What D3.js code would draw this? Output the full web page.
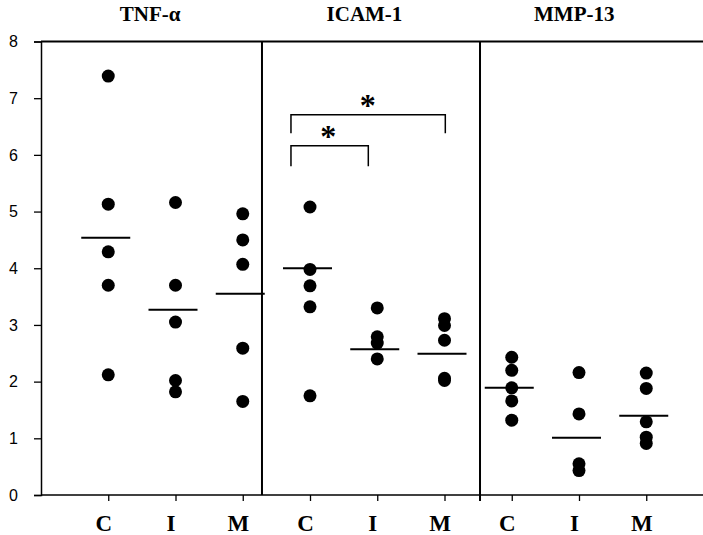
<!DOCTYPE html>
<html>
<head>
<meta charset="utf-8">
<script src="https://cdn.jsdelivr.net/npm/d3@7"></script>
<style>
  html, body { margin: 0; padding: 0; background: #fff; }
  svg { display: block; }
</style>
</head>
<body>
<svg id="chart" width="703" height="535"></svg>
<script>
// ---------------- data ----------------
const panels = ["TNF-α", "ICAM-1", "MMP-13"];
const groups = ["C", "I", "M"];
const yTicks = [0, 1, 2, 3, 4, 5, 6, 7, 8];

const tnfValues = [
  [7.39, 5.13, 4.29, 3.70, 2.12],
  [5.16, 3.70, 3.05, 2.02, 1.82],
  [4.96, 4.50, 4.07, 2.59, 1.65]
];
const icamValues = [
  [5.08, 3.98, 3.69, 3.32, 1.75],
  [3.30, 2.79, 2.68, 2.40],
  [3.11, 2.99, 2.73, 2.06, 2.02]
];
const mmpValues = [
  [2.43, 2.20, 1.89, 1.66, 1.32],
  [2.16, 1.43, 0.55, 0.43],
  [2.15, 1.88, 1.29, 1.02, 0.91]
];
const tnfLines = [4.54, 3.27, 3.55];
const icamLines = [4.00, 2.57, 2.49];
const mmpLines = [1.89, 1.01, 1.40];
const significance = ["*", "*"];

// ---------------- layout ----------------
const W = 703, H = 535;
const svg = d3.select("#chart");
const x = d3.scaleLinear().domain([-1, 9]).range([41, 713.5]);
const y = d3.scaleLinear().domain([0, 8]).range([495, 41.5]);

const allValues = [tnfValues, icamValues, mmpValues];
const allLines = [tnfLines, icamLines, mmpLines];
const categories = [];
panels.forEach((p, pi) => groups.forEach((g, gi) => categories.push({
  panel: pi, label: g, idx: pi * 3 + gi,
  values: allValues[pi][gi], line: allLines[pi][gi]
})));

const ink = "#000";

// top frame line
svg.append("line")
  .attr("x1", x(-1)).attr("x2", W)
  .attr("y1", y(8)).attr("y2", y(8))
  .attr("stroke", ink).attr("stroke-width", 2);

// panel dividers (between groups)
const dividerPos = [2.286, 5.528];
svg.selectAll(".divider").data(dividerPos).enter().append("line")
  .attr("class", "divider")
  .attr("x1", d => x(d)).attr("x2", d => x(d))
  .attr("y1", y(8)).attr("y2", (d, i) => i === 1 ? y(0) + 6 : y(0))
  .attr("stroke", ink).attr("stroke-width", 2);

// y axis
const yAxis = d3.axisLeft(y).tickValues(yTicks).tickSize(7).tickPadding(16)
  .tickFormat(d3.format("d"));
const gy = svg.append("g").attr("transform", `translate(${x(-1)},0)`).call(yAxis);
gy.select(".domain").attr("stroke", ink).attr("stroke-width", 1.5);
gy.selectAll(".tick line").attr("stroke", ink).attr("stroke-width", 1.3);
gy.selectAll(".tick text")
  .attr("fill", ink)
  .style("font-family", "Liberation Sans, Arial, sans-serif")
  .style("font-size", "16px");

// x axis
const xAxis = d3.axisBottom(x).tickValues(categories.map(c => c.idx)).tickSize(6)
  .tickFormat((d, i) => categories[i].label);
const gx = svg.append("g").attr("transform", `translate(0,${y(0)})`).call(xAxis);
gx.select(".domain").attr("d", `M${x(-1)},0H${W}`).attr("stroke", ink).attr("stroke-width", 1.5);
gx.selectAll(".tick line").attr("stroke", ink).attr("stroke-width", 1.3);
gx.selectAll(".tick text")
  .attr("fill", ink)
  .attr("y", 35.5).attr("dy", 0).attr("dx", -5)
  .style("font-family", "Liberation Serif, 'Times New Roman', serif")
  .style("font-weight", "bold")
  .style("font-size", "23px");

// panel titles
const titlePos = [0.623, 3.81, 6.93];
svg.selectAll(".title").data(panels).enter().append("text")
  .attr("class", "title")
  .attr("x", (d, i) => x(titlePos[i]))
  .attr("y", 21)
  .attr("text-anchor", "middle")
  .style("font-family", "Liberation Serif, 'Times New Roman', serif")
  .style("font-weight", "bold")
  .style("font-size", "21px")
  .text(d => d);

// mean lines
svg.selectAll(".mean").data(categories).enter().append("line")
  .attr("class", "mean")
  .attr("x1", d => x(d.idx) - 27).attr("x2", d => x(d.idx) + 22)
  .attr("y1", d => y(d.line)).attr("y2", d => y(d.line))
  .attr("stroke", ink).attr("stroke-width", 2);

// points
const pts = [];
categories.forEach(c => c.values.forEach(v => pts.push({ idx: c.idx, v })));
svg.selectAll(".pt").data(pts).enter().append("circle")
  .attr("class", "pt")
  .attr("cx", d => x(d.idx)).attr("cy", d => y(d.v))
  .attr("r", 6.5).attr("fill", ink);

// significance brackets (ICAM-1: C vs I, C vs M)
const brackets = [
  { x1: 2.717, x2: 3.867, top: 6.16, bottom: 5.80, sx: 3.27, sy: 6.36 },
  { x1: 2.717, x2: 5.012, top: 6.71, bottom: 6.38, sx: 3.86, sy: 6.92 }
];
brackets.forEach((b, i) => {
  svg.append("path")
    .attr("d", `M${x(b.x1)},${y(b.bottom)}V${y(b.top)}H${x(b.x2)}V${y(b.bottom)}`)
    .attr("fill", "none").attr("stroke", ink).attr("stroke-width", 1.5);
  svg.append("text")
    .attr("x", x(b.sx)).attr("y", y(b.sy) + 13)
    .attr("text-anchor", "middle")
    .style("font-family", "Liberation Serif, 'Times New Roman', serif")
    .style("font-weight", "bold")
    .style("font-size", "32px")
    .text(significance[i]);
});
</script>
</body>
</html>
